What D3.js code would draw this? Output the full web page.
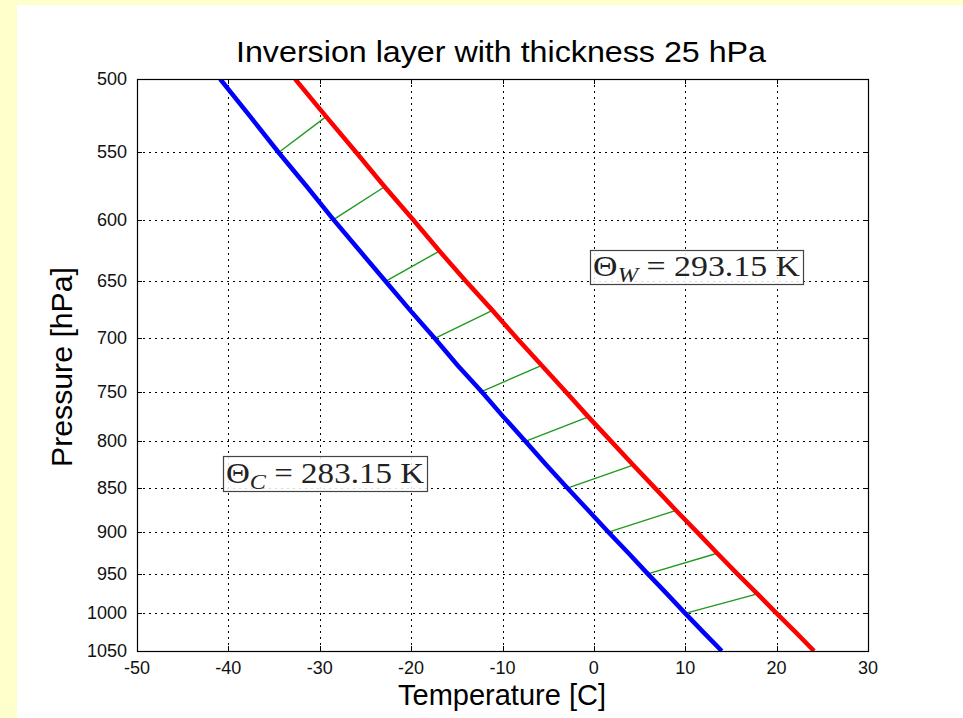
<!DOCTYPE html>
<html>
<head>
<meta charset="utf-8">
<script src="https://cdn.jsdelivr.net/npm/d3@7"></script>
<style>
  body { margin: 0; background: #ffffcc; }
  svg { display: block; }
</style>
</head>
<body>
<div id="chart"></div>
<script>
const pressures = [500, 525, 550, 575, 600, 625, 650, 675, 700, 725, 750, 775, 800, 825, 850, 875, 900, 925, 950, 975, 1000, 1025, 1050];
const coldTemps = [-40.9, -37.6, -34.5, -31.4, -28.5, -25.6, -22.8, -20.1, -17.4, -14.9, -12.3, -9.9, -7.5, -5.2, -2.9, -0.6, 1.6, 3.8, 5.9, 8.0, 10.0, 12.0, 14.0];
const warmTemps = [-32.7, -29.3, -26.0, -22.9, -19.8, -16.9, -14.0, -11.1, -8.4, -5.7, -3.1, -0.6, 1.9, 4.3, 6.7, 9.0, 11.3, 13.5, 15.7, 17.9, 20.0, 22.1, 24.1];
// green connectors: cold line at p, warm line at p - 25
const linkPressures = [550, 600, 650, 700, 750, 800, 850, 900, 950, 1000];
const layerThickness = 25;

const xTicks = [-50, -40, -30, -20, -10, 0, 10, 20, 30];
const yTicks = [500, 550, 600, 650, 700, 750, 800, 850, 900, 950, 1000, 1050];

const W = 963, H = 718;
const margin = { top: 79, right: 95, bottom: 67, left: 137 };

const svg = d3.select("#chart").append("svg")
  .attr("width", W).attr("height", H);

// white figure area on the yellow page
svg.append("rect")
  .attr("x", 17).attr("y", 5)
  .attr("width", W - 17).attr("height", H - 5)
  .attr("fill", "#fff");

const x = d3.scaleLinear().domain([-50, 30]).range([margin.left, W - margin.right]);
const y = d3.scaleLog().domain([500, 1050]).range([margin.top, H - margin.bottom]);

const x0 = margin.left, x1 = W - margin.right;
const y0 = margin.top, y1 = H - margin.bottom;

// grid
const grid = svg.append("g").attr("stroke", "#000").attr("stroke-width", 1)
  .attr("stroke-dasharray", "2,4");
grid.selectAll("line.gx").data(xTicks.slice(1, -1)).enter().append("line")
  .attr("x1", d => Math.round(x(d)) + 0.5).attr("x2", d => Math.round(x(d)) + 0.5)
  .attr("y1", y0).attr("y2", y1);
grid.selectAll("line.gy").data(yTicks.slice(1, -1)).enter().append("line")
  .attr("y1", d => Math.round(y(d)) + 0.5).attr("y2", d => Math.round(y(d)) + 0.5)
  .attr("x1", x0).attr("x2", x1);

svg.append("clipPath").attr("id", "plot")
  .append("rect").attr("x", x0).attr("y", y0).attr("width", x1 - x0).attr("height", y1 - y0);

const plot = svg.append("g").attr("clip-path", "url(#plot)");

const line = temps => d3.line()
  .x((d, i) => x(temps[i]))
  .y(d => y(d))(pressures);

// green connectors
const tempAt = (temps, p) => temps[pressures.indexOf(p)];
plot.selectAll("line.link").data(linkPressures).enter().append("line")
  .attr("x1", p => x(tempAt(coldTemps, p)))
  .attr("y1", p => y(p))
  .attr("x2", p => x(tempAt(warmTemps, p - layerThickness)))
  .attr("y2", p => y(p - layerThickness))
  .attr("stroke", "#1f9a1f").attr("stroke-width", 1.4);

plot.append("path").attr("d", line(coldTemps))
  .attr("fill", "none").attr("stroke", "#0000ff").attr("stroke-width", 4.5);
plot.append("path").attr("d", line(warmTemps))
  .attr("fill", "none").attr("stroke", "#ff0000").attr("stroke-width", 4.5);

// axes box
svg.append("rect")
  .attr("x", x0 + 0.5).attr("y", y0 + 0.5)
  .attr("width", x1 - x0).attr("height", y1 - y0)
  .attr("fill", "none").attr("stroke", "#000").attr("stroke-width", 1.2);

// ticks (inward)
const tk = svg.append("g").attr("stroke", "#000").attr("stroke-width", 1);
xTicks.forEach(d => {
  const xx = Math.round(x(d)) + 0.5;
  tk.append("line").attr("x1", xx).attr("x2", xx).attr("y1", y1).attr("y2", y1 - 5);
  tk.append("line").attr("x1", xx).attr("x2", xx).attr("y1", y0).attr("y2", y0 + 5);
});
yTicks.forEach(d => {
  const yy = Math.round(y(d)) + 0.5;
  tk.append("line").attr("y1", yy).attr("y2", yy).attr("x1", x0).attr("x2", x0 + 5);
  tk.append("line").attr("y1", yy).attr("y2", yy).attr("x1", x1).attr("x2", x1 - 5);
});

const font = "Liberation Sans, Arial, sans-serif";

svg.append("g").selectAll("text").data(xTicks).enter().append("text")
  .attr("x", d => x(d)).attr("y", y1 + 23)
  .attr("text-anchor", "middle")
  .style("font-family", font).style("font-size", "18px").attr("fill", "#111")
  .text(d => d);

svg.append("g").selectAll("text").data(yTicks).enter().append("text")
  .attr("x", x0 - 10).attr("y", d => y(d) + 6)
  .attr("text-anchor", "end")
  .style("font-family", font).style("font-size", "18px").attr("fill", "#111")
  .text(d => d);

svg.append("text")
  .attr("x", 501).attr("y", 62)
  .attr("text-anchor", "middle")
  .attr("textLength", 530).attr("lengthAdjust", "spacingAndGlyphs")
  .style("font-family", font).style("font-size", "30px")
  .text("Inversion layer with thickness 25 hPa");

svg.append("text")
  .attr("x", 502).attr("y", 705)
  .attr("text-anchor", "middle")
  .attr("textLength", 208).attr("lengthAdjust", "spacingAndGlyphs")
  .style("font-family", font).style("font-size", "29px")
  .text("Temperature [C]");

svg.append("text")
  .attr("transform", `translate(72, 367) rotate(-90)`)
  .attr("text-anchor", "middle")
  .attr("textLength", 200).attr("lengthAdjust", "spacingAndGlyphs")
  .style("font-family", font).style("font-size", "29px")
  .text("Pressure [hPa]");

// theta labels
function thetaLabel(bx, by, bw, bh, sub, value) {
  const g = svg.append("g");
  g.append("rect")
    .attr("x", bx + 0.5).attr("y", by + 0.5).attr("width", bw).attr("height", bh)
    .attr("fill", "#fff").attr("fill-opacity", 0.85)
    .attr("stroke", "#444").attr("stroke-width", 1.2);
  const t = g.append("text")
    .attr("x", bx + 3).attr("y", by + bh - 8)
    .attr("textLength", bw - 6).attr("lengthAdjust", "spacingAndGlyphs")
    .style("font-family", "Liberation Serif, DejaVu Serif, serif")
    .style("font-size", "30px").attr("fill", "#222");
  t.append("tspan").text("Θ");
  t.append("tspan").attr("dy", 6).style("font-style", "italic").style("font-size", "22px").text(sub);
  t.append("tspan").attr("dy", -6).text(" = " + value + " K");
}
thetaLabel(590, 250, 213, 34, "W", "293.15");
thetaLabel(223, 456, 204, 35, "C", "283.15");
</script>
</body>
</html>
